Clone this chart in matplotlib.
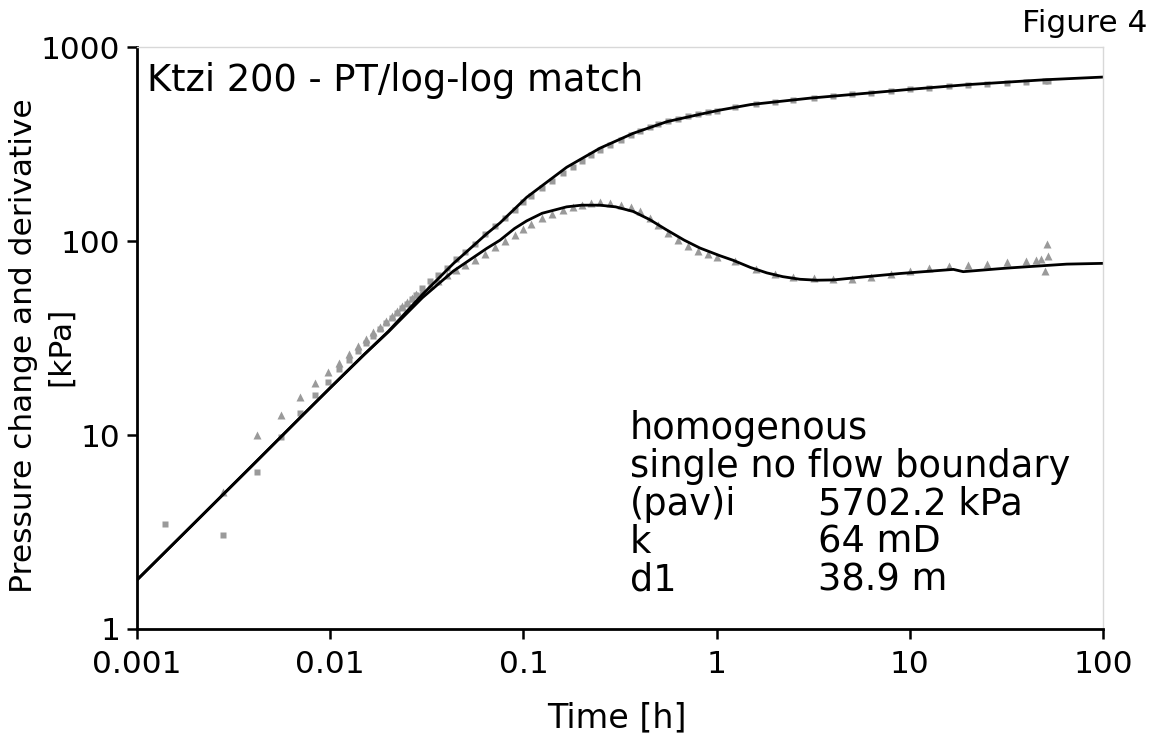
import numpy as np
import matplotlib
matplotlib.use("Agg")
import matplotlib.pyplot as plt

# measured data: pressure change (squares)
t_p = [0.00139, 0.00278, 0.00417, 0.00556, 0.00694, 0.00833, 0.00972, 0.0111,
       0.0125, 0.0139, 0.0153, 0.0167, 0.0181, 0.0194, 0.0208, 0.0222, 0.0236,
       0.025, 0.0264, 0.0278, 0.03, 0.033, 0.036, 0.04, 0.045, 0.05, 0.056,
       0.063, 0.071, 0.08, 0.09, 0.1, 0.11, 0.125, 0.14, 0.16, 0.18, 0.2,
       0.225, 0.25, 0.28, 0.32, 0.36, 0.4, 0.45, 0.5, 0.56, 0.63, 0.71, 0.8,
       0.9, 1.0, 1.25, 1.6, 2.0, 2.5, 3.2, 4.0, 5.0, 6.3, 8.0, 10, 12.5, 16,
       20, 25, 32, 40, 50, 52]
dp = [3.47, 3.06, 6.47, 9.72, 13.0, 16.0, 18.7, 22.0,
      24.5, 27.2, 29.8, 32.4, 35.0, 37.6, 40.0, 42.6, 45.0,
      47.5, 50.0, 52.5, 57, 62, 67, 73, 81, 88, 97,
      109, 120, 132, 145, 159, 171, 188, 204, 224, 241, 257,
      276, 293, 311, 333, 352, 368, 386, 400, 414, 428, 441, 452,
      462, 470, 488, 507, 522, 535, 549, 560, 571, 582, 593, 604, 615, 626,
      636, 645, 654, 662, 669, 671]

# measured data: derivative (triangles)
t_d = [0.00278, 0.00417, 0.00556, 0.00694, 0.00833, 0.00972, 0.0111,
       0.0125, 0.0139, 0.0153, 0.0167, 0.0181, 0.0194, 0.0208, 0.0222, 0.0236,
       0.025, 0.0264, 0.0278, 0.03, 0.033, 0.036, 0.04, 0.045, 0.05, 0.056,
       0.063, 0.071, 0.08, 0.09, 0.1, 0.11, 0.125, 0.14, 0.16, 0.18, 0.2,
       0.225, 0.25, 0.28, 0.32, 0.36, 0.4, 0.45, 0.5, 0.56, 0.63, 0.71, 0.8,
       0.9, 1.0, 1.25, 1.6, 2.0, 2.5, 3.2, 4.0, 5.0, 6.3, 8.0, 10, 12.5, 16,
       20, 25, 32, 40, 45, 48, 50, 51.5, 52]
deriv = [5.1, 9.95, 12.7, 15.7, 18.5, 21.1, 23.6,
         26.0, 28.6, 31.2, 33.8, 36.2, 38.8, 41.0, 43.5, 46.0,
         48.5, 51.0, 53.3, 55.5, 59, 62.5, 66.5, 70.5, 75, 80,
         86, 93, 100, 108, 116, 122, 131, 138, 145, 150, 154,
         157, 158, 157, 154, 149, 142, 132, 121, 110, 101, 94, 88.5,
         85.5, 83, 78.5, 72, 67.5, 65.5, 64.5, 63.5, 64, 65.5, 67.5, 70, 72.5, 74.5,
         75.5, 76.5, 77.5, 78.5, 79.5, 81, 70, 96.6, 84]

# model (black lines)
t_mp = [0.001, 0.002, 0.004, 0.007, 0.01, 0.015, 0.02, 0.03, 0.0434, 0.0646,
        0.0757, 0.104, 0.1675, 0.249, 0.37, 0.552, 0.82, 1.04, 1.5, 3.04, 6,
        10, 20, 50, 100]
p_model = [1.79, 3.55, 7.05, 12.3, 17.5, 26, 34.2, 53, 76.5, 109,
           124, 168, 240, 301, 359, 412, 450, 473, 505, 545, 578,
           605, 640, 678, 700]

t_md = [0.001, 0.002, 0.004, 0.007, 0.01, 0.015, 0.02, 0.03, 0.0434, 0.0646,
        0.0757, 0.09, 0.104, 0.125, 0.1675, 0.2, 0.249, 0.3, 0.37, 0.45, 0.552,
        0.68, 0.82, 1.04, 1.22, 1.5, 1.82, 2.2, 2.7, 3.3, 4.02, 5.98, 8.9, 16.8,
        18.9, 31.8, 64.9, 100]
d_model = [1.79, 3.55, 7.05, 12.3, 17.5, 26, 34, 51, 70, 91.6,
           101, 116, 127, 139, 150, 153, 153, 150, 142, 129, 114,
           101, 92, 84, 79.5, 73, 68.5, 65.5, 63.5, 62.8, 63, 65.5, 68, 71.4,
           69.5, 72.5, 76, 76.7]

xticks = [0.001, 0.01, 0.1, 1, 10, 100]
xtick_labels = ['0.001', '0.01', '0.1', '1', '10', '100']
yticks = [1, 10, 100, 1000]
ytick_labels = ['1', '10', '100', '1000']

info_left = ['homogenous', 'single no flow boundary', '(pav)i', 'k', 'd1']
info_right = ['', '', '5702.2 kPa', '64 mD', '38.9 m']

fig = plt.figure(figsize=(11.58, 7.38), dpi=100)
ax = fig.add_axes([0.1183, 0.1477, 0.8342, 0.7886])

gray = '#9a9a9a'
ax.plot(t_p, dp, 's', color=gray, ms=4.6, mec='none')
ax.plot(t_d, deriv, '^', color=gray, ms=5.6, mec='none')
ax.plot(t_mp, p_model, '-', color='black', lw=2.0)
ax.plot(t_md, d_model, '-', color='black', lw=2.0)

ax.set_xscale('log')
ax.set_yscale('log')
ax.set_xlim(0.001, 100)
ax.set_ylim(1, 1000)
ax.set_xticks(xticks)
ax.set_xticklabels(xtick_labels)
ax.set_yticks(yticks)
ax.set_yticklabels(ytick_labels)
ax.minorticks_off()
ax.tick_params(direction='out', length=7, width=1.8, labelsize=22.5, pad=5)
ax.tick_params(axis='x', pad=8)

for s in ['left', 'bottom']:
    ax.spines[s].set_linewidth(2.0)
    ax.spines[s].set_color('black')
for s in ['top', 'right']:
    ax.spines[s].set_linewidth(1.0)
    ax.spines[s].set_color('#d8d8d8')

ax.set_xlabel('Time [h]', fontsize=24)
ax.xaxis.set_label_coords(0.497, -0.125)

# two-line y label, drawn as two rotated texts
ax.text(-0.1175, 0.486, 'Pressure change and derivative', transform=ax.transAxes,
        fontsize=22.5, rotation=90, ha='center', va='center')
ax.text(-0.0790, 0.486, '[kPa]', transform=ax.transAxes,
        fontsize=22.5, rotation=90, ha='center', va='center')

ax.text(0.0104, 0.943, 'Ktzi 200 - PT/log-log match', transform=ax.transAxes,
        fontsize=26.5, va='center', ha='left')

for i in range(len(info_left)):
    yy = 0.345 - i * 0.0652
    ax.text(0.510, yy, info_left[i], transform=ax.transAxes, fontsize=26.5,
            va='center', ha='left')
    ax.text(0.705, yy, info_right[i], transform=ax.transAxes, fontsize=26.5,
            va='center', ha='left')

fig.text(0.991, 0.968, 'Figure 4', fontsize=22.5, ha='right', va='center')

fig.savefig('out.png', dpi=100)
